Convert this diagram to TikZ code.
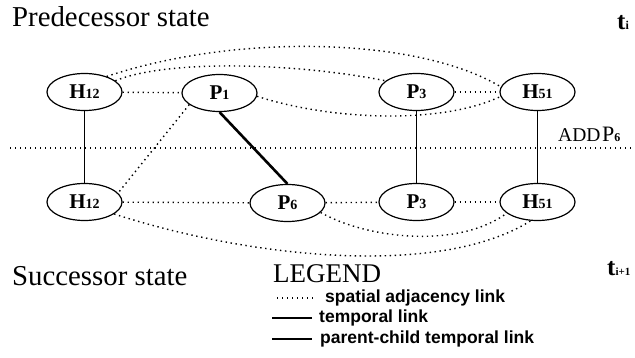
\documentclass[tikz,border=0pt]{standalone}
\usepackage{fontspec}
\setmainfont{Liberation Serif}
\newfontfamily\legsans{Liberation Sans}
\usetikzlibrary{shapes.geometric}
\newcommand\lab[2]{#1{\fontsize{14}{14}\selectfont #2}}
\begin{document}
\begin{tikzpicture}[x=1pt,y=-1pt,
  state/.style={ellipse,draw,line width=1.2pt,minimum width=75pt,minimum height=37pt,inner sep=0pt,
    font=\fontsize{21}{21}\selectfont\bfseries},
  spat/.style={line width=1.4pt,dash pattern=on 1.4pt off 3.6pt},
  temp/.style={line width=1.2pt},
  pc/.style={line width=2.6pt},
  bigtxt/.style={font=\fontsize{28.8}{28.8}\selectfont,anchor=base west,inner sep=0pt},
  legtxt/.style={font=\fontsize{17.5}{17.5}\selectfont\legsans\bfseries,anchor=base west,inner sep=0pt},
  timetxt/.style={font=\fontsize{25}{25}\selectfont\bfseries,anchor=base west,inner sep=0pt}
]
\useasboundingbox (0,0) rectangle (635,358);

% texts
\node[bigtxt] (pred) at (12,27) {Predecessor state};
\node[bigtxt] (succ) at (12,286) {Successor state};
\node[bigtxt,font=\fontsize{27}{27}\selectfont] (legend) at (273,283) {LEGEND};
\node[timetxt] (ti) at (617,30) {t{\fontsize{12}{12}\selectfont i}};
\node[timetxt] (ti1) at (607,276) {t{\fontsize{11}{11}\selectfont i+1}};
\node[anchor=base west,inner sep=0pt] (add) at (558,142)
  {{\fontsize{19.5}{19.5}\selectfont ADD}\,{\fontsize{22}{22}\selectfont P}{\fontsize{12}{12}\selectfont\bfseries 6}};

% nodes
\node[state] (h12a) at (84.5,92) {\lab{H}{12}};
\node[state] (p1)   at (219.5,93) {\lab{P}{1}};
\node[state] (p3a)  at (416.5,92) {\lab{P}{3}};
\node[state] (h51a) at (537.5,92) {\lab{H}{51}};
\node[state] (h12b) at (84.5,202) {\lab{H}{12}};
\node[state] (p6)   at (287.5,203) {\lab{P}{6}};
\node[state] (p3b)  at (416.5,202) {\lab{P}{3}};
\node[state] (h51b) at (537.5,202) {\lab{H}{51}};

% divider
\coordinate (dl) at (10,148);
\coordinate (dr) at (640,148);
\draw[spat] (dl) -- (dr);

% top row spatial links
\draw[spat] (h12a) -- (p1);
\draw[spat] (p3a) -- (h51a);
\draw[spat] (h12a.20) .. controls (165,60) and (290,62) .. (p3a.160);
\draw[spat] (h12a.35) .. controls (240,32) and (420,38) .. (h51a.172);
\draw[spat] (p1.355) .. controls (330,120) and (440,125) .. (h51a.187);

% temporal links
\draw[temp] (h12a) -- (h12b);
\draw[temp] (p3a) -- (p3b);
\draw[temp] (h51a) -- (h51b);
\draw[pc] (p1.south) -- (p6.north);

% cross spatial link
\draw[spat] (p1.201) -- (h12b.15);

% bottom row spatial links
\draw[spat] (h12b) -- (p6);
\draw[spat] (p6) -- (p3b);
\draw[spat] (p3b) -- (h51b);
\draw[spat] (h12b.338) .. controls (250,258) and (440,278) .. (h51b.250);
\draw[spat] (p6.344) .. controls (370,240) and (460,248) .. (h51b.200);

% legend
\coordinate (l1a) at (277,298);
\coordinate (l1b) at (313,298);
\draw[spat] (l1a) -- (l1b);
\node[legtxt] (leg1) at (325,303) {spatial adjacency link};
\coordinate (l2a) at (272,318);
\coordinate (l2b) at (312,318);
\draw[line width=2pt] (l2a) -- (l2b);
\node[legtxt] (leg2) at (319,323) {temporal link};
\coordinate (l3a) at (272,339);
\coordinate (l3b) at (312,339);
\draw[line width=2.8pt] (l3a) -- (l3b);
\node[legtxt] (leg3) at (320,344) {parent-child temporal link};
\end{tikzpicture}
\end{document}
